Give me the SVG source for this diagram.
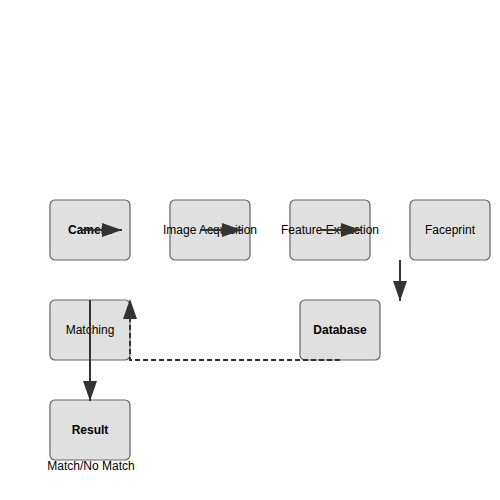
<svg xmlns="http://www.w3.org/2000/svg" width="500" height="500" viewBox="0 0 500 500">
<style>
.box{fill:#e0e0e0;stroke:#666;stroke-width:1.2}
.t{font-family:"Liberation Sans",Arial,sans-serif;font-size:12px;fill:#000;text-anchor:middle;dominant-baseline:central}
.b{font-weight:bold}
.c{stroke:#333;stroke-width:2;fill:none}
.d{stroke-dasharray:5,3}
</style>
<defs>
<marker id="ah" markerUnits="userSpaceOnUse" markerWidth="20" markerHeight="14" refX="20" refY="7" orient="auto">
<path d="M0,0 L20,7 L0,14 z" fill="#333"/>
</marker>
</defs>
<rect width="500" height="500" fill="#fff"/>
<g id="camera"><rect class="box" x="50" y="200" width="80" height="60" rx="5"/><text class="t b" x="90" y="230">Camera</text></g>
<g id="image-acquisition"><rect class="box" x="170" y="200" width="80" height="60" rx="5"/><text class="t" x="210" y="230">Image Acquisition</text></g>
<g id="feature-extraction"><rect class="box" x="290" y="200" width="80" height="60" rx="5"/><text class="t" x="330" y="230">Feature Extraction</text></g>
<g id="faceprint"><rect class="box" x="410" y="200" width="80" height="60" rx="5"/><text class="t" x="450" y="230">Faceprint</text></g>
<g id="matching"><rect class="box" x="50" y="300" width="80" height="60" rx="5"/><text class="t" x="90" y="330">Matching</text></g>
<g id="database"><rect class="box" x="300" y="300" width="80" height="60" rx="5"/><text class="t b" x="340" y="330">Database</text></g>
<g id="result"><rect class="box" x="50" y="400" width="80" height="60" rx="5"/><text class="t b" x="90" y="430">Result</text><text class="t" x="91" y="466">Match/No Match</text></g>
<g id="connectors">
<line class="c" x1="80" y1="230" x2="122" y2="230" marker-end="url(#ah)"/>
<line class="c" x1="200" y1="230" x2="242" y2="230" marker-end="url(#ah)"/>
<line class="c" x1="320" y1="230" x2="361" y2="230" marker-end="url(#ah)"/>
<line class="c" x1="400" y1="260" x2="400" y2="301" marker-end="url(#ah)"/>
<line class="c" x1="90" y1="300" x2="90" y2="401" marker-end="url(#ah)"/>
<polyline class="c d" points="340,360 130,360 130,299" marker-end="url(#ah)"/>
</g>
</svg>
